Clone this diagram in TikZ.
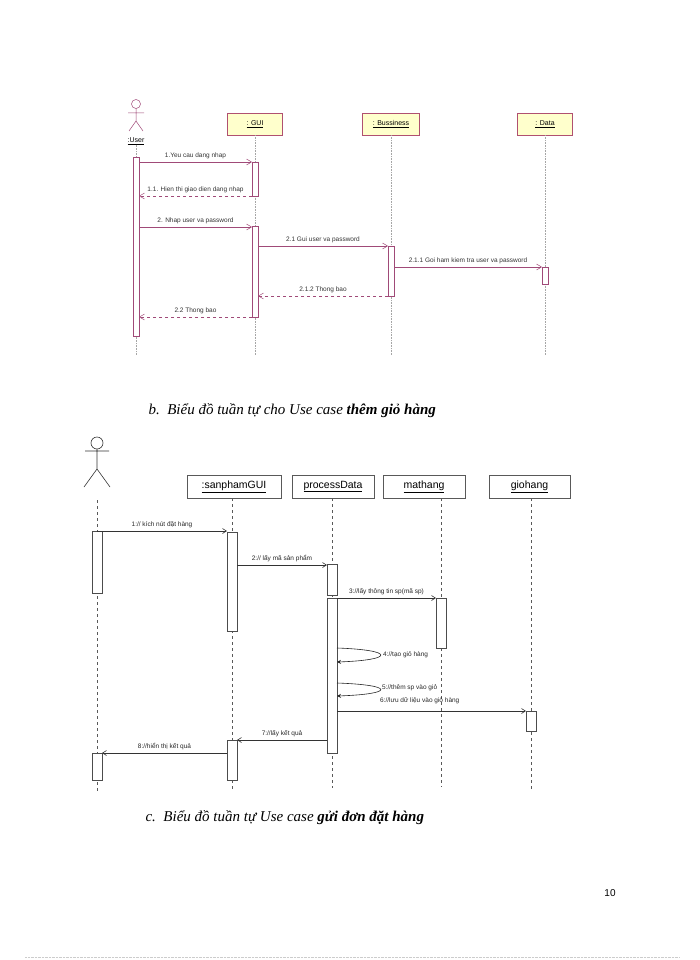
\documentclass[tikz,border=0pt]{standalone}
\usepackage{fontspec}
\setmainfont{Liberation Serif}
\newfontfamily\diag{Liberation Sans}
\usetikzlibrary{arrows.meta}
\definecolor{msgc}{HTML}{A04A78}
\definecolor{boxb}{HTML}{B05070}
\definecolor{boxf}{HTML}{FFFFCC}
\tikzset{
 obj/.style={draw=boxb,fill=boxf,minimum height=22pt,inner sep=1pt,font=\diag\fontsize{7}{8}\selectfont},
 obj2/.style={draw=gray!70!black,fill=white,minimum height=23pt,inner sep=1pt,font=\diag\fontsize{10.5}{11}\selectfont},
 lifeA/.style={gray!70,densely dotted,line width=0.6pt},
 lifeB/.style={gray!70!black,dashed,line width=0.6pt},
 actA/.style={draw=msgc,fill=white,line width=0.5pt},
 actB/.style={draw=gray!60!black,fill=white,line width=0.6pt},
 callA/.style={msgc,line width=0.5pt,-{Straight Barb[length=5pt,width=6pt]}},
 retA/.style={msgc,dashed,line width=0.5pt,-{Straight Barb[length=5pt,width=6pt]}},
 callB/.style={black!80,line width=0.6pt,-{Straight Barb[length=4pt,width=5pt]}},
 lblA/.style={font=\diag\fontsize{6.5}{7}\selectfont,text=black!80,inner sep=1pt},
 lblB/.style={font=\diag\fontsize{6.5}{7}\selectfont,text=black!85,inner sep=1pt},
 captxt/.style={font=\itshape\fontsize{15}{17}\selectfont,anchor=west}
}
\begin{document}
\begin{tikzpicture}[x=1pt,y=-1pt]
\useasboundingbox (0,0) rectangle (700,960);
% ---------- top diagram ----------
\draw[msgc,line width=0.5pt] (136,104) circle (4.5);
\draw[msgc,line width=0.5pt] (136,108.5)--(136,121) (128,113)--(144,113) (136,121)--(129,131) (136,121)--(143,131);
\node[font=\diag\fontsize{7}{8}\selectfont,inner sep=0] (uA) at (136,141) {\underline{:User}};
\node[obj,minimum width=55pt] (gA) at (255,124) {\underline{: GUI}};
\node[obj,minimum width=57pt] (bA) at (391,124) {\underline{: Bussiness}};
\node[obj,minimum width=55pt] (dA) at (545,124) {\underline{: Data}};
\coordinate (uAe) at (136,355); \coordinate (gAe) at (255,355);
\coordinate (bAe) at (391,355); \coordinate (dAe) at (545,355);
\draw[lifeA] (uA.south)--(uAe); \draw[lifeA] (gA)--(gAe);
\draw[lifeA] (bA)--(bAe); \draw[lifeA] (dA)--(dAe);
\node[actA,minimum width=6pt,minimum height=179pt,inner sep=0] (uAct) at (136,246.5) {};
\node[actA,minimum width=6pt,minimum height=34pt,inner sep=0] (g1) at (255,179) {};
\node[actA,minimum width=6pt,minimum height=91pt,inner sep=0] (g2) at (255,271.5) {};
\node[actA,minimum width=6pt,minimum height=50pt,inner sep=0] (b1) at (391,271) {};
\node[actA,minimum width=6pt,minimum height=17pt,inner sep=0] (d1) at (545,275.5) {};
\draw[callA] (139,162)--(252,162) node[lblA,midway,above=2pt]{1.Yeu cau dang nhap};
\draw[retA] (252,196)--(139,196) node[lblA,midway,above=2pt]{1.1. Hien thi giao dien dang nhap};
\draw[callA] (139,227)--(252,227) node[lblA,midway,above=2pt]{2. Nhap user va password};
\draw[callA] (258,246)--(388,246) node[lblA,midway,above=2pt]{2.1 Gui user va password};
\draw[callA] (394,267)--(542,267) node[lblA,midway,above=2pt]{2.1.1 Goi ham kiem tra user va password};
\draw[retA] (388,296)--(258,296) node[lblA,midway,above=2pt]{2.1.2 Thong bao};
\draw[retA] (252,317)--(139,317) node[lblA,midway,above=2pt]{2.2 Thong bao};
% caption b
\node[captxt] (capb) at (145,411) {b.\ \ Biểu đồ tuần tự cho Use case \textbf{thêm giỏ hàng}};
% ---------- bottom diagram ----------
\draw[black!80,line width=0.6pt] (97,443) circle (6);
\draw[black!80,line width=0.6pt] (97,449)--(97,469) (85,451)--(109,451) (97,469)--(84,487) (97,469)--(110,487);
\node[obj2,minimum width=94pt] (sg) at (234,486.5) {\underline{:sanphamGUI}};
\node[obj2,minimum width=82pt] (pd) at (333,486.5) {\underline{processData}};
\node[obj2,minimum width=82pt] (mh) at (424,486.5) {\underline{mathang}};
\node[obj2,minimum width=81pt] (gh) at (529.5,486.5) {\underline{giohang}};
\coordinate (acTop) at (97,500); \coordinate (acEnd) at (97,792);
\coordinate (sgEnd) at (232,790); \coordinate (pdEnd) at (332,788);
\coordinate (mhEnd) at (441,787); \coordinate (ghEnd) at (531,790);
\draw[lifeB] (acTop)--(acEnd);
\draw[lifeB] (232,498)--(sgEnd); \draw[lifeB] (332,498)--(pdEnd);
\draw[lifeB] (441,498)--(mhEnd); \draw[lifeB] (531,498)--(ghEnd);
\node[actB,minimum width=10pt,minimum height=62pt,inner sep=0] (a1) at (97,562) {};
\node[actB,minimum width=10pt,minimum height=27pt,inner sep=0] (a2) at (97,766.5) {};
\node[actB,minimum width=10pt,minimum height=99pt,inner sep=0] (s1) at (232,581.5) {};
\node[actB,minimum width=10pt,minimum height=40pt,inner sep=0] (s2) at (232,760) {};
\node[actB,minimum width=10pt,minimum height=31pt,inner sep=0] (p1) at (332,579.5) {};
\node[actB,minimum width=10pt,minimum height=155pt,inner sep=0] (p2) at (332,675.5) {};
\node[actB,minimum width=10pt,minimum height=50pt,inner sep=0] (m1) at (441,623) {};
\node[actB,minimum width=10pt,minimum height=20pt,inner sep=0] (g1b) at (531,721) {};
\draw[callB] (97,531)--(227,531) node[lblB,midway,above=2pt]{1:// kích nút đặt hàng};
\draw[callB] (237,565)--(327,565) node[lblB,midway,above=2pt]{2:// lấy mã sản phẩm};
\draw[callB] (337,598)--(436,598) node[lblB,midway,above=2pt]{3://lấy thông tin sp(mã sp)};
\draw[black!85,line width=0.6pt,-{Stealth[length=4pt,width=4pt]}] (337,648) .. controls (395,650) and (395,660) .. (337,662);
\node[lblB,anchor=west] (l4) at (382,655) {4://tạo giỏ hàng};
\draw[black!85,line width=0.6pt,-{Stealth[length=4pt,width=4pt]}] (337,683) .. controls (395,685) and (395,694) .. (337,696);
\node[lblB,anchor=west] (l5) at (381,688) {5://thêm sp vào giỏ};
\draw[callB] (337,711)--(526,711);
\node[lblB,anchor=west] (l6) at (379,701) {6://lưu dữ liệu vào giỏ hàng};
\draw[callB] (327,740)--(237,740) node[lblB,midway,above=2pt]{7://lấy kết quả};
\draw[callB] (227,753)--(102,753) node[lblB,midway,above=2pt]{8://hiển thị kết quả};
% caption c
\node[captxt] (capc) at (142,818) {c.\ \ Biểu đồ tuần tự Use case \textbf{gửi đơn đặt hàng}};
\node[font=\diag\fontsize{10}{12}\selectfont] (pg) at (610,893) {10};
\draw[gray!40,densely dotted] (25,957)--(680,957);
\end{tikzpicture}
\end{document}
